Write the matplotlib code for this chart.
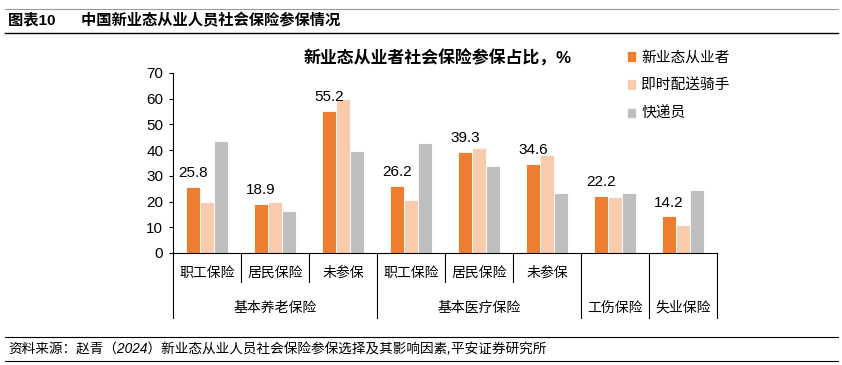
import numpy as np
import matplotlib
matplotlib.use('Agg')
import matplotlib.pyplot as plt
import matplotlib.transforms as mtransforms
from matplotlib.lines import Line2D
from matplotlib.patches import Patch

plt.rcParams['font.family'] = ['Liberation Sans', 'Noto Sans CJK SC', 'DejaVu Sans']

# data
sub_labels = ['职工保险', '居民保险', '未参保', '职工保险', '居民保险', '未参保', '', '']
main_labels = ['基本养老保险', '基本医疗保险', '工伤保险', '失业保险']
main_centers = [1, 4, 6, 7]
series_names = ['新业态从业者', '即时配送骑手', '快递员']
new_form = [25.8, 18.9, 55.2, 26.2, 39.3, 34.6, 22.2, 14.2]
riders = [19.8, 19.8, 60.0, 20.7, 40.7, 38.2, 21.9, 10.7]
couriers = [43.7, 16.4, 39.8, 42.6, 34.0, 23.2, 23.2, 24.6]
colors = ['#ED7D31', '#F8CBAD', '#BFBFBF']

W, H = 842, 365
fig = plt.figure(figsize=(W / 100, H / 100), dpi=100)
ax = fig.add_axes([173 / W, (H - 253) / H, 544 / W, 180 / H])

x = np.arange(len(new_form))
bw = 0.205
for i, (vals, c) in enumerate(zip([new_form, riders, couriers], colors)):
    ax.bar(x + (i - 1) * bw, vals, bw, color=c, edgecolor='white', linewidth=0.6,
           label=series_names[i])

for xi, v in zip(x, new_form):
    ax.annotate('%.1f' % v, (xi - bw, v), xytext=(0, 5), textcoords='offset points',
                ha='center', va='bottom', fontsize=11)

ax.set_xlim(-0.5, 7.5)
ax.set_ylim(0, 70)
ax.set_yticks(range(0, 71, 10))
ax.tick_params(axis='y', direction='out', length=3, labelsize=11, pad=4)
ax.set_xticks([])
for s in ['top', 'right']:
    ax.spines[s].set_visible(False)
ax.spines['left'].set_bounds(0, 70)

# category separators and labels below the axis
trans = mtransforms.blended_transform_factory(ax.transData, ax.transAxes)
for b in [0.5, 1.5, 3.5, 4.5]:
    ax.add_line(Line2D([b, b], [0, -0.16], transform=trans, color='black', lw=0.8, clip_on=False))
for b in [-0.5, 2.5, 5.5, 6.5, 7.5]:
    ax.add_line(Line2D([b, b], [0, -0.36], transform=trans, color='black', lw=0.8, clip_on=False))
for xi, lab in zip(x, sub_labels):
    ax.text(xi, -0.11, lab, transform=trans, ha='center', va='center', fontsize=10)
for xc, lab in zip(main_centers, main_labels):
    ax.text(xc, -0.305, lab, transform=trans, ha='center', va='center', fontsize=10)

# chart title
fig.text(438 / W, 1 - 58 / H, '新业态从业者社会保险参保占比，%', ha='center', va='center',
         fontsize=12.2, fontweight='bold')

# legend
handles = [Patch(color=c) for c in colors]
fig.legend(handles, series_names, loc='upper left', bbox_to_anchor=(622 / W, 1 - 45 / H),
           frameon=False, fontsize=10.6, handlelength=0.5, handleheight=0.5,
           handletextpad=0.4, labelspacing=0.95, borderaxespad=0)

# header and footer
fig.add_artist(Line2D([5 / W, 838 / W], [1 - 9 / H, 1 - 9 / H], color='#999999', lw=0.8))
fig.add_artist(Line2D([5 / W, 838 / W], [1 - 33 / H, 1 - 33 / H], color='black', lw=1.0))
fig.text(8 / W, 1 - 21 / H, '图表10      中国新业态从业人员社会保险参保情况', ha='left', va='center',
         fontsize=11, fontweight='bold')
fig.add_artist(Line2D([5 / W, 838 / W], [1 - 337 / H, 1 - 337 / H], color='black', lw=0.8))
fig.add_artist(Line2D([5 / W, 838 / W], [1 - 361 / H, 1 - 361 / H], color='black', lw=0.8))
fig.text(8 / W, 1 - 349 / H, '资料来源：赵青（2024）新业态从业人员社会保险参保选择及其影响因素,平安证券研究所',
         ha='left', va='center', fontsize=9.8, style='italic')

fig.savefig('out.png', dpi=100)
